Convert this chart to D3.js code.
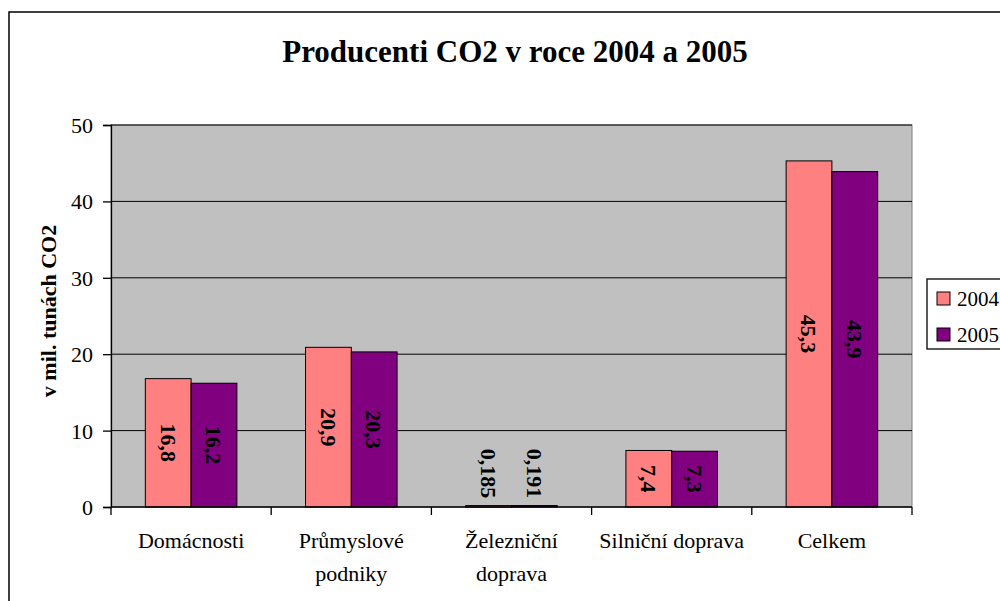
<!DOCTYPE html>
<html>
<head>
<meta charset="utf-8">
<script src="https://cdn.jsdelivr.net/npm/d3@7"></script>
<style>
  body { margin: 0; background: #fff; }
  svg { display: block; }
  svg text { font-family: "Liberation Serif", "Times New Roman", serif; }
</style>
</head>
<body>
<div id="chart"></div>
<script>
// data
const categories = ["Domácnosti", "Průmyslové podniky", "Železniční doprava", "Silniční doprava", "Celkem"];
const categoryLines = [["Domácnosti"], ["Průmyslové", "podniky"], ["Železniční", "doprava"], ["Silniční doprava"], ["Celkem"]];
const years = ["2004", "2005"];
const values2004 = [16.8, 20.9, 0.185, 7.4, 45.3];
const values2005 = [16.2, 20.3, 0.191, 7.3, 43.9];
const labels2004 = ["16,8", "20,9", "0,185", "7,4", "45,3"];
const labels2005 = ["16,2", "20,3", "0,191", "7,3", "43,9"];
const yTicks = [0, 10, 20, 30, 40, 50];
const colors = ["#FF8080", "#800080"];

const W = 1000, H = 601;
const plot = { left: 111, right: 912, top: 125, bottom: 507 };
const serif = "'Liberation Serif', 'Times New Roman', serif";

const svg = d3.select("#chart").append("svg")
  .attr("width", W)
  .attr("height", H);

// outer chart frame (runs off the right / bottom edges)
svg.append("rect")
  .attr("x", 9).attr("y", 12)
  .attr("width", 1010).attr("height", 610)
  .attr("fill", "#fff")
  .attr("stroke", "#000")
  .attr("stroke-width", 1.5);

// title
svg.append("text")
  .attr("x", 515).attr("y", 62)
  .attr("text-anchor", "middle")
  .style("font-size", "31px")
  .style("font-weight", "bold")
  .text("Producenti CO2 v roce 2004 a 2005");

// scales
const x0 = d3.scaleBand()
  .domain(categories)
  .range([plot.left, plot.right]);
const x1 = d3.scaleBand()
  .domain(years)
  .range([0, x0.bandwidth()])
  .paddingInner(0)
  .paddingOuter(0.75);
const y = d3.scaleLinear()
  .domain([0, 50])
  .range([plot.bottom, plot.top]);

// plot area
svg.append("rect")
  .attr("x", plot.left).attr("y", plot.top)
  .attr("width", plot.right - plot.left)
  .attr("height", plot.bottom - plot.top)
  .attr("fill", "#C0C0C0")
  .attr("stroke", "#808080")
  .attr("stroke-width", 1);

// gridlines
svg.append("g")
  .selectAll("line")
  .data(yTicks.filter(d => d > 0))
  .join("line")
  .attr("x1", plot.left).attr("x2", plot.right)
  .attr("y1", d => y(d)).attr("y2", d => y(d))
  .attr("stroke", "#000")
  .attr("stroke-width", 1);

// bars
const rows = categories.map((c, i) => ({
  cat: c,
  items: [
    { year: years[0], v: values2004[i], label: labels2004[i] },
    { year: years[1], v: values2005[i], label: labels2005[i] }
  ]
}));

const groups = svg.append("g")
  .selectAll("g")
  .data(rows)
  .join("g")
  .attr("transform", d => `translate(${x0(d.cat)},0)`);

groups.selectAll("rect")
  .data(d => d.items)
  .join("rect")
  .attr("x", d => x1(d.year))
  .attr("y", d => y(d.v))
  .attr("width", x1.bandwidth())
  .attr("height", d => y(0) - y(d.v))
  .attr("fill", (d, i) => colors[i])
  .attr("stroke", "#000")
  .attr("stroke-width", 1);

// value labels, rotated, centered in bar (pushed up if bar is too short)
groups.selectAll("text")
  .data(d => d.items)
  .join("text")
  .attr("transform", d => {
    const cx = x1(d.year) + x1.bandwidth() / 2;
    const half = d.label.length * 5.5;
    const cy = Math.min((y(d.v) + y(0)) / 2, y(0) - half - 6);
    return `translate(${cx},${cy}) rotate(90)`;
  })
  .attr("text-anchor", "middle")
  .attr("dy", "0.35em")
  .attr("font-family", serif)
  .style("font-size", "22px")
  .style("font-weight", "bold")
  .text(d => d.label);

// y axis
const yAxis = svg.append("g")
  .attr("transform", `translate(${plot.left},0)`)
  .call(d3.axisLeft(y).tickValues(yTicks).tickSize(8).tickPadding(10).tickFormat(d3.format("d")));
yAxis.attr("font-family", serif).attr("font-size", 22);
yAxis.select(".domain").attr("stroke", "#000").attr("stroke-width", 1.3);
yAxis.selectAll(".tick line").attr("stroke", "#000").attr("stroke-width", 1.3);
yAxis.selectAll("text")
  .attr("fill", "#000")
  .attr("font-family", serif)
  .attr("dy", "0.34em");

// x axis line and ticks between categories
svg.append("line")
  .attr("x1", plot.left).attr("x2", plot.right)
  .attr("y1", plot.bottom).attr("y2", plot.bottom)
  .attr("stroke", "#000").attr("stroke-width", 1.3);
const xTickPos = categories.map(c => x0(c)).concat([x0(categories[categories.length - 1]) + x0.bandwidth()]);
svg.append("g")
  .selectAll("line")
  .data(xTickPos)
  .join("line")
  .attr("x1", d => d).attr("x2", d => d)
  .attr("y1", plot.bottom).attr("y2", plot.bottom + 8)
  .attr("stroke", "#000").attr("stroke-width", 1.3);

// category labels
const catLabels = svg.append("g")
  .selectAll("text")
  .data(categories)
  .join("text")
  .attr("x", d => x0(d) + x0.bandwidth() / 2)
  .attr("y", 548)
  .attr("text-anchor", "middle")
  .attr("font-family", serif)
  .style("font-size", "22px");
catLabels.selectAll("tspan")
  .data((d, i) => categoryLines[i])
  .join("tspan")
  .attr("x", function() { return this.parentNode.getAttribute("x"); })
  .attr("dy", (d, i) => i === 0 ? 0 : 33)
  .text(d => d);

// y axis title
svg.append("text")
  .attr("transform", `translate(56,${(plot.top + plot.bottom) / 2 - 5}) rotate(-90)`)
  .attr("text-anchor", "middle")
  .attr("font-family", serif)
  .style("font-size", "22px")
  .style("font-weight", "bold")
  .text("v mil. tunách CO2");

// legend
const legend = svg.append("g");
legend.append("rect")
  .attr("x", 927).attr("y", 279)
  .attr("width", 100).attr("height", 70)
  .attr("fill", "#fff")
  .attr("stroke", "#000")
  .attr("stroke-width", 1.3);
const li = legend.selectAll("g")
  .data(years)
  .join("g")
  .attr("transform", (d, i) => `translate(937,${292 + i * 36})`);
li.append("rect")
  .attr("width", 13).attr("height", 13)
  .attr("fill", (d, i) => colors[i])
  .attr("stroke", "#000");
li.append("text")
  .attr("x", 20).attr("y", 14)
  .attr("font-family", serif)
  .style("font-size", "21px")
  .text(d => d);
</script>
</body>
</html>
